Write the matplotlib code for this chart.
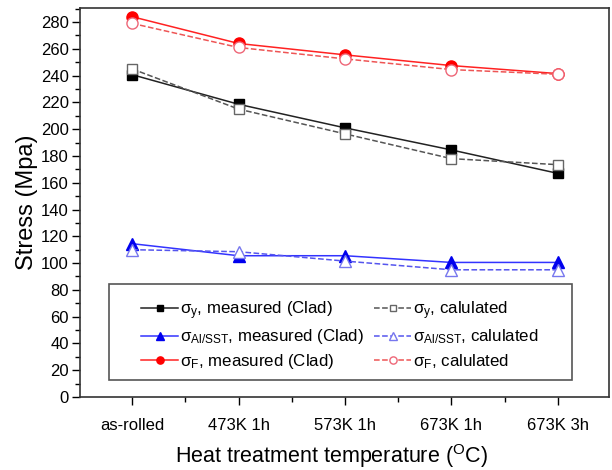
import matplotlib
matplotlib.use('Agg')
import matplotlib.pyplot as plt
from matplotlib.patches import Rectangle
from matplotlib.ticker import MultipleLocator, FixedLocator

plt.rcParams['font.family'] = ['Liberation Sans', 'DejaVu Sans']
plt.rcParams['mathtext.fontset'] = 'custom'
plt.rcParams['mathtext.rm'] = 'Liberation Sans'
plt.rcParams['mathtext.it'] = 'Liberation Sans'
plt.rcParams['mathtext.default'] = 'regular'

conditions = ['as-rolled', '473K 1h', '573K 1h', '673K 1h', '673K 3h']

sy_measured = [240.7, 218.6, 201.0, 184.5, 167.0]
sy_calc = [245.0, 215.0, 196.5, 178.0, 173.5]
sal_measured = [114.5, 105.5, 105.5, 100.5, 100.5]
sal_calc = [110.0, 108.5, 101.5, 95.0, 95.0]
sf_measured = [284.0, 264.0, 255.5, 247.5, 241.5]
sf_calc = [279.0, 261.0, 252.5, 244.5, 241.0]

x = list(range(len(conditions)))

fig = plt.figure(figsize=(6.12, 4.70), dpi=100)
ax = fig.add_axes([0.1307, 0.1553, 0.8643, 0.8277])

ax.plot(x, sy_measured, '-', color='#222222', lw=1.1, marker='s', ms=7,
        mfc='black', mec='black', label=r'$\sigma_{y}$, measured (Clad)')
ax.plot(x, sal_measured, '-', color='#3333ff', lw=1.1, marker='^', ms=8,
        mfc='#0000ee', mec='#0000ee', label=r'$\sigma_{Al/SST}$, measured (Clad)')
ax.plot(x, sf_measured, '-', color='#ff2222', lw=1.1, marker='o', ms=8,
        mfc='#ff0000', mec='#ff0000', label=r'$\sigma_{F}$, measured (Clad)')
ax.plot(x, sy_calc, '--', color='#555555', lw=1.1, marker='s', ms=7,
        mfc='white', mec='#666666', label=r'$\sigma_{y}$, calulated')
ax.plot(x, sal_calc, '--', color='#5555ee', lw=1.1, marker='^', ms=8,
        mfc='white', mec='#7777ee', label=r'$\sigma_{Al/SST}$, calulated')
ax.plot(x, sf_calc, '--', color='#ee5555', lw=1.1, marker='o', ms=8,
        mfc='white', mec='#ee6677', label=r'$\sigma_{F}$, calulated')

ax.set_xlim(-0.49, 4.48)
ax.set_ylim(0, 290.5)
ax.set_xticks(x)
ax.set_xticklabels(conditions)
ax.xaxis.set_minor_locator(FixedLocator([-0.5 + i for i in range(1, 5)] + [4.5]))
ax.yaxis.set_major_locator(MultipleLocator(20))
ax.yaxis.set_minor_locator(MultipleLocator(10))
ax.tick_params(axis='both', which='major', direction='out', length=6, width=1, labelsize=12)
ax.tick_params(axis='both', which='minor', direction='out', length=3.5, width=1)
ax.tick_params(axis='x', pad=9)
ax.tick_params(axis='y', pad=2)
for s in ax.spines.values():
    s.set_color('#333333')
    s.set_linewidth(1.2)

ax.set_xlabel(r'Heat treatment temperature ($^{O}$C)', fontsize=15.5, labelpad=3)
ax.xaxis.set_label_coords(0.476, -0.115)
ax.set_ylabel('Stress (Mpa)', fontsize=17, labelpad=2)

# legend box drawn separately so its padding matches the original
ax.add_patch(Rectangle((0.0548, 0.0437), 0.875, 0.247, transform=ax.transAxes,
                       fill=True, fc='white', ec='#555555', lw=1.2, zorder=4))
leg = ax.legend(loc='center', bbox_to_anchor=(0.4915, 0.159),
                ncol=2, fontsize=12.2, frameon=False,
                handlelength=2.2, handletextpad=0.1, columnspacing=0.6,
                labelspacing=0.35, borderaxespad=0, markerscale=0.65)
leg.set_zorder(5)

fig.savefig('out.png', dpi=100)
